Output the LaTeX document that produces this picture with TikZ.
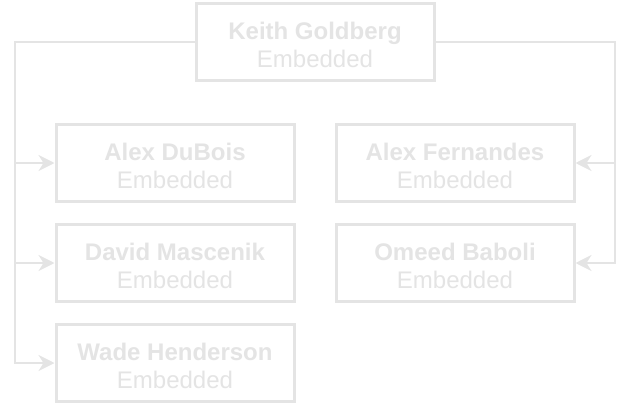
\documentclass[tikz,border=0pt]{standalone}
\usepackage{fontspec}
\setmainfont{Liberation Sans}
\usetikzlibrary{arrows.meta}
\definecolor{boxline}{HTML}{E4E4E4}
\definecolor{boxtext}{HTML}{E4E4E4}
\definecolor{connline}{HTML}{E4E4E4}
\newcommand{\toplift}{\rule{0pt}{23pt}}
\begin{document}
\begin{tikzpicture}[x=1pt,y=-1pt,
  person/.style={draw=boxline, line width=3pt, fill=white, minimum width=238pt, minimum height=77pt,
    inner sep=0pt, align=center, text=boxtext, font=\fontsize{24}{28}\selectfont},
  conn/.style={draw=connline, line width=2pt, -{Stealth[length=16pt,width=16pt,inset=5pt]}}]
\useasboundingbox (0,0) rectangle (632,404);
\node[person] (kg) at (315,42) {\toplift\textbf{Keith Goldberg}\\Embedded};
\node[person] (ad) at (175,163) {\toplift\textbf{Alex DuBois}\\Embedded};
\node[person] (dm) at (175,263) {\toplift\textbf{David Mascenik}\\Embedded};
\node[person] (wh) at (175,363) {\toplift\textbf{Wade Henderson}\\Embedded};
\node[person] (af) at (455,163) {\toplift\textbf{Alex Fernandes}\\Embedded};
\node[person] (ob) at (455,263) {\toplift\textbf{Omeed Baboli}\\Embedded};
\coordinate (lb) at (15,42);
\coordinate (rb) at (615,42);
\draw[conn] (kg.west) -- (lb) |- (ad.west);
\draw[conn] (kg.west) -- (lb) |- (dm.west);
\draw[conn] (kg.west) -- (lb) |- (wh.west);
\draw[conn] (kg.east) -- (rb) |- (af.east);
\draw[conn] (kg.east) -- (rb) |- (ob.east);
\end{tikzpicture}
\end{document}
